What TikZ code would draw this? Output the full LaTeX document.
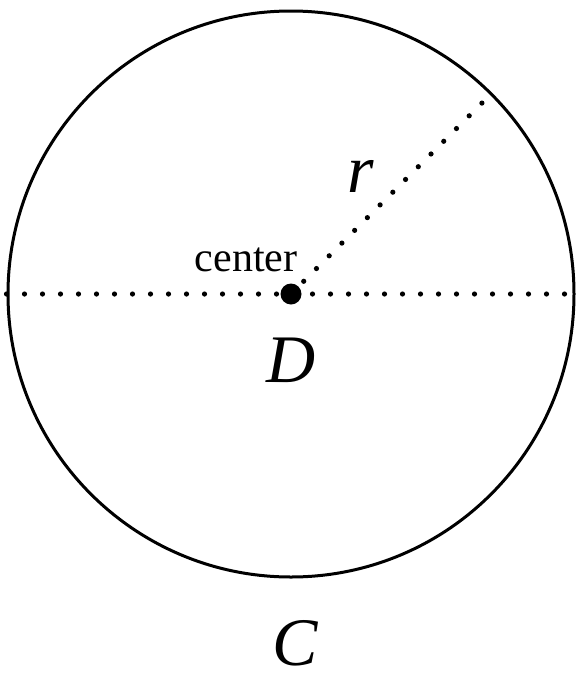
\documentclass[tikz,border=0pt]{standalone}
\usepackage{fontspec}
\setmainfont{Liberation Serif}
\usepackage{tikz}
\usetikzlibrary{positioning}

\begin{document}
\begin{tikzpicture}[
  x=0.5pt, y=-0.5pt,
  rim/.style={draw, circle, line width=1.5pt, minimum size=283pt, inner sep=0pt},
  hub/.style={circle, fill, minimum size=10.5pt, inner sep=0pt},
  dotline/.style={line width=2.6pt, line cap=round, dash pattern=on 0pt off 9pt},
  tag/.style={font=\fontsize{21}{21}\selectfont, anchor=base, inner sep=0pt},
  sym/.style={font=\fontsize{34}{34}\selectfont\itshape, anchor=base, inner sep=0pt}
]
  \useasboundingbox (0,0) rectangle (575,675);
  \node[rim] (disk) at (291,294) {};
  \node[hub] (ctr) at (291,294) {};
  \node[tag] (lbl) at (246,271) {center};
  \node[sym] (rad) at (361,192) {r};
  \node[sym] (dom) at (291,382) {D};
  \node[sym] (bnd) at (295,665) {C};

  \draw[dotline] (disk.west) -- (disk.east);
  \draw[dotline] (ctr.center) -- (disk.45);
\end{tikzpicture}
\end{document}
